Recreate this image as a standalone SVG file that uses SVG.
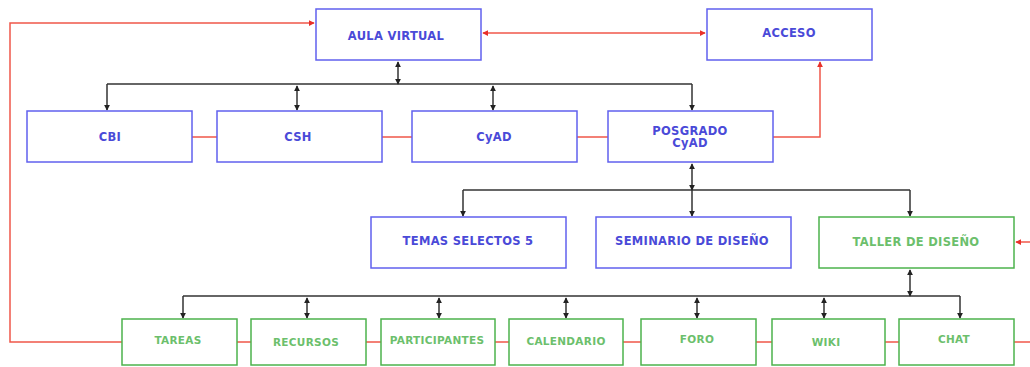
<svg xmlns="http://www.w3.org/2000/svg" width="1030" height="367" viewBox="0 0 1030 367">
<defs>
<marker id="ah" viewBox="0 0 8 8" refX="7" refY="4" markerWidth="6" markerHeight="6" orient="auto-start-reverse" markerUnits="userSpaceOnUse"><path d="M0,0 L8,4 L0,8 z" fill="#222"/></marker>
<marker id="rh" viewBox="0 0 8 8" refX="7" refY="4" markerWidth="6" markerHeight="6" orient="auto-start-reverse" markerUnits="userSpaceOnUse"><path d="M0,0 L8,4 L0,8 z" fill="#e8302a"/></marker>
<style>
.b rect{fill:#fff;stroke:#6060ee;stroke-width:1.5}
.g rect{fill:#fff;stroke:#4cb34c;stroke-width:1.5}
.b text{fill:#4a4ad8;font-family:"DejaVu Sans",Verdana,sans-serif;font-weight:bold;font-size:11.5px;letter-spacing:0.3px;text-anchor:middle}
.g text{fill:#6cbf6c;font-family:"DejaVu Sans",Verdana,sans-serif;font-weight:bold;font-size:10.5px;letter-spacing:0.3px;text-anchor:middle}
.k{fill:none;stroke:#333;stroke-width:1.5}
.r{fill:none;stroke:#f0574a;stroke-width:1.5}
</style>
</defs>
<rect width="1030" height="367" fill="#fff"/>
<g id="connectors">
<path class="r" d="M122,342 H10 V23 H314" marker-end="url(#rh)"/>
<path class="r" d="M483,33 H705" marker-start="url(#rh)" marker-end="url(#rh)"/>
<path class="r" d="M773,137 H820 V62" marker-end="url(#rh)"/>
<path class="r" d="M1014,342 H1030"/>
<path class="r" d="M1030,242 H1016" marker-end="url(#rh)"/>
<path class="r" d="M192,137 H217 M382,137 H412 M577,137 H608"/>
<path class="r" d="M237,342 H251 M366,342 H381 M495,342 H509 M623,342 H641 M756,342 H772 M885,342 H899"/>
<path class="k" d="M107,84 H692"/>
<path class="k" d="M398,62 V84" marker-start="url(#ah)" marker-end="url(#ah)"/>
<path class="k" d="M107,84 V110" marker-end="url(#ah)"/>
<path class="k" d="M297,86 V110" marker-start="url(#ah)" marker-end="url(#ah)"/>
<path class="k" d="M493,86 V110" marker-start="url(#ah)" marker-end="url(#ah)"/>
<path class="k" d="M692,84 V110" marker-end="url(#ah)"/>
<path class="k" d="M463,190 H910"/>
<path class="k" d="M692,164 V190" marker-start="url(#ah)" marker-end="url(#ah)"/>
<path class="k" d="M692,190 V216" marker-end="url(#ah)"/>
<path class="k" d="M463,190 V216" marker-end="url(#ah)"/>
<path class="k" d="M910,190 V216" marker-end="url(#ah)"/>
<path class="k" d="M183,296 H960"/>
<path class="k" d="M910,270 V296" marker-start="url(#ah)" marker-end="url(#ah)"/>
<path class="k" d="M183,296 V318" marker-end="url(#ah)"/>
<path class="k" d="M307,298 V318" marker-start="url(#ah)" marker-end="url(#ah)"/>
<path class="k" d="M439,298 V318" marker-start="url(#ah)" marker-end="url(#ah)"/>
<path class="k" d="M566,298 V318" marker-start="url(#ah)" marker-end="url(#ah)"/>
<path class="k" d="M697,298 V318" marker-start="url(#ah)" marker-end="url(#ah)"/>
<path class="k" d="M824,298 V318" marker-start="url(#ah)" marker-end="url(#ah)"/>
<path class="k" d="M960,296 V318" marker-end="url(#ah)"/>
</g>
<g id="aula" class="b"><rect x="316" y="9" width="165" height="51"/><text x="396" y="40">AULA VIRTUAL</text></g>
<g id="acceso" class="b"><rect x="707" y="9" width="165" height="51"/><text x="789" y="37">ACCESO</text></g>
<g id="cbi" class="b"><rect x="27" y="111" width="165" height="51"/><text x="110" y="141">CBI</text></g>
<g id="csh" class="b"><rect x="217" y="111" width="165" height="51"/><text x="298" y="141">CSH</text></g>
<g id="cyad" class="b"><rect x="412" y="111" width="165" height="51"/><text x="494" y="141">CyAD</text></g>
<g id="posgrado" class="b"><rect x="608" y="111" width="165" height="51"/><text x="690" y="135">POSGRADO</text><text x="690" y="147">CyAD</text></g>
<g id="temas" class="b"><rect x="371" y="217" width="195" height="51"/><text x="468" y="245">TEMAS SELECTOS 5</text></g>
<g id="seminario" class="b"><rect x="596" y="217" width="195" height="51"/><text x="692" y="245">SEMINARIO DE DISEÑO</text></g>
<g id="taller" class="g"><rect x="819" y="217" width="195" height="51"/><text x="916" y="246" style="font-size:11.5px">TALLER DE DISEÑO</text></g>
<g id="tareas" class="g"><rect x="122" y="319" width="115" height="46"/><text x="178" y="344">TAREAS</text></g>
<g id="recursos" class="g"><rect x="251" y="319" width="115" height="46"/><text x="306" y="346">RECURSOS</text></g>
<g id="participantes" class="g"><rect x="381" y="319" width="114" height="46"/><text x="437" y="344">PARTICIPANTES</text></g>
<g id="calendario" class="g"><rect x="509" y="319" width="114" height="46"/><text x="566" y="345">CALENDARIO</text></g>
<g id="foro" class="g"><rect x="641" y="319" width="115" height="46"/><text x="697" y="343">FORO</text></g>
<g id="wiki" class="g"><rect x="772" y="319" width="113" height="46"/><text x="826" y="346">WIKI</text></g>
<g id="chat" class="g"><rect x="899" y="319" width="115" height="46"/><text x="954" y="343">CHAT</text></g>
</svg>
